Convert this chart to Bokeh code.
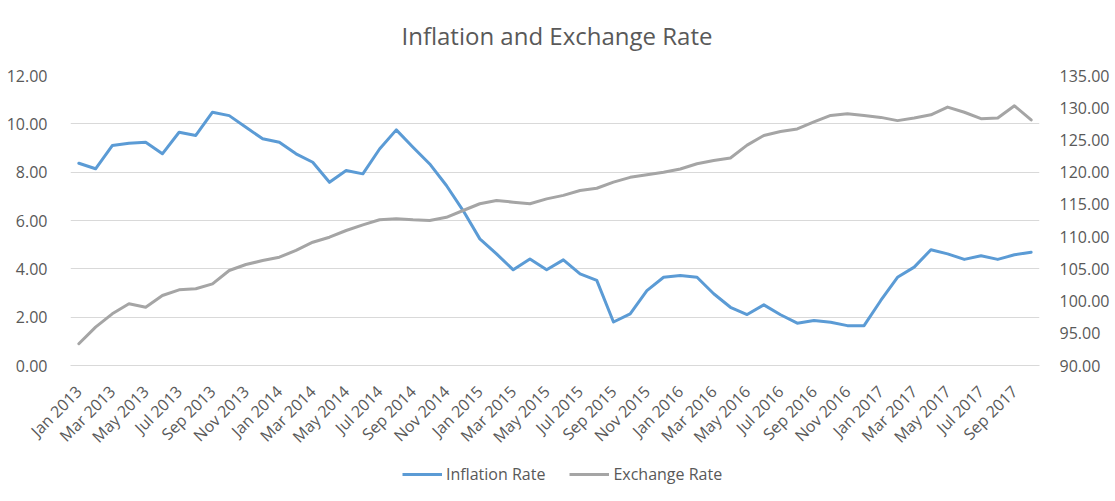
import math
from bokeh.plotting import figure
from bokeh.layouts import column
from bokeh.models import (Range1d, LinearAxis, FixedTicker, NumeralTickFormatter,
                          Legend, LegendItem, ColumnDataSource, Label)
from bokeh.embed import file_html
from bokeh.resources import INLINE

months = [
    "Jan 2013", "Feb 2013", "Mar 2013", "Apr 2013", "May 2013", "Jun 2013",
    "Jul 2013", "Aug 2013", "Sep 2013", "Oct 2013", "Nov 2013", "Dec 2013",
    "Jan 2014", "Feb 2014", "Mar 2014", "Apr 2014", "May 2014", "Jun 2014",
    "Jul 2014", "Aug 2014", "Sep 2014", "Oct 2014", "Nov 2014", "Dec 2014",
    "Jan 2015", "Feb 2015", "Mar 2015", "Apr 2015", "May 2015", "Jun 2015",
    "Jul 2015", "Aug 2015", "Sep 2015", "Oct 2015", "Nov 2015", "Dec 2015",
    "Jan 2016", "Feb 2016", "Mar 2016", "Apr 2016", "May 2016", "Jun 2016",
    "Jul 2016", "Aug 2016", "Sep 2016", "Oct 2016", "Nov 2016", "Dec 2016",
    "Jan 2017", "Feb 2017", "Mar 2017", "Apr 2017", "May 2017", "Jun 2017",
    "Jul 2017", "Aug 2017", "Sep 2017", "Oct 2017",
]

inflation_rate = [
    8.37, 8.14, 9.10, 9.20, 9.24, 8.76, 9.65, 9.52, 10.48, 10.34,
    9.86, 9.38, 9.24, 8.76, 8.41, 7.58, 8.07, 7.93, 8.96, 9.75,
    9.03, 8.34, 7.45, 6.41, 5.24, 4.62, 3.96, 4.41, 3.96, 4.37,
    3.79, 3.52, 1.80, 2.14, 3.10, 3.65, 3.72, 3.65, 2.97, 2.41,
    2.11, 2.51, 2.10, 1.75, 1.86, 1.79, 1.65, 1.65, 2.69, 3.65,
    4.07, 4.79, 4.62, 4.39, 4.54, 4.39, 4.58, 4.69,
]

exchange_rate = [
    93.37, 95.95, 98.02, 99.57, 99.05, 100.86, 101.74, 101.90, 102.67, 104.74,
    105.67, 106.29, 106.81, 107.85, 109.13, 109.91, 110.95, 111.83, 112.61, 112.76,
    112.60, 112.50, 113.00, 114.05, 115.10, 115.60, 115.35, 115.10, 115.86, 116.40,
    117.16, 117.50, 118.45, 119.20, 119.60, 120.00, 120.50, 121.30, 121.80, 122.20,
    124.20, 125.70, 126.30, 126.70, 127.80, 128.80, 129.05, 128.80, 128.50, 128.00,
    128.40, 128.90, 130.10, 129.30, 128.30, 128.40, 130.30, 128.10,
]

tick_labels = [
    "Jan 2013", "Mar 2013", "May 2013", "Jul 2013", "Sep 2013", "Nov 2013",
    "Jan 2014", "Mar 2014", "May 2014", "Jul 2014", "Sep 2014", "Nov 2014",
    "Jan 2015", "Mar 2015", "May 2015", "Jul 2015", "Sep 2015", "Nov 2015",
    "Jan 2016", "Mar 2016", "May 2016", "Jul 2016", "Sep 2016", "Nov 2016",
    "Jan 2017", "Mar 2017", "May 2017", "Jul 2017", "Sep 2017",
]

chart_title = "Inflation and Exchange Rate"
series_names = ["Inflation Rate", "Exchange Rate"]
series_colors = ["#5B9BD5", "#A5A5A5"]

left_ticks = [0, 2, 4, 6, 8, 10, 12]
right_ticks = [90, 95, 100, 105, 110, 115, 120, 125, 130, 135]

FONT = "Open Sans"
TXT = "#595959"
GRID = "#D9D9D9"

idx = list(range(len(months)))
src = ColumnDataSource(dict(x=idx, month=months, infl=inflation_rate, fx=exchange_rate))

# ---- title strip -------------------------------------------------------
ts = figure(width=1115, height=60, output_backend="svg", toolbar_location=None,
            x_range=Range1d(0, 1), y_range=Range1d(0, 1),
            x_axis_location=None, y_axis_location=None,
            min_border_left=0, min_border_right=0, min_border_top=0, min_border_bottom=0)
ts.outline_line_color = None
ts.xgrid.grid_line_color = None
ts.ygrid.grid_line_color = None
ts.add_layout(Label(x=0.502, y=0.42, text=chart_title, text_align="center",
                    text_baseline="middle", text_font=FONT, text_font_size="24px",
                    text_color=TXT))

# ---- main chart --------------------------------------------------------
p = figure(frame_width=969, frame_height=290, output_backend="svg", toolbar_location=None,
           x_range=Range1d(-0.5, len(months) - 0.5), y_range=Range1d(0, 12),
           min_border_left=70, min_border_right=76, min_border_top=15,
           min_border_bottom=92)
p.extra_y_ranges = {"fx": Range1d(90, 135)}
p.outline_line_color = None
p.background_fill_color = "white"
p.border_fill_color = "white"

# x axis
xa = p.xaxis[0]
xa.ticker = FixedTicker(ticks=[months.index(t) for t in tick_labels])
xa.major_label_overrides = {months.index(t): t for t in tick_labels}
xa.major_label_orientation = math.pi / 4
xa.axis_line_color = GRID
xa.major_tick_line_color = None
xa.minor_tick_line_color = None
xa.major_label_text_font = FONT
xa.major_label_text_font_size = "16px"
xa.major_label_text_color = TXT
xa.major_label_standoff = 17

# left y axis
ya = p.yaxis[0]
ya.ticker = FixedTicker(ticks=left_ticks)
ya.formatter = NumeralTickFormatter(format="0.00")
ya.axis_line_color = None
ya.major_tick_line_color = None
ya.minor_tick_line_color = None
ya.major_label_text_font = FONT
ya.major_label_text_font_size = "16px"
ya.major_label_text_color = TXT
ya.major_label_standoff = 17

# right y axis
ra = LinearAxis(y_range_name="fx", ticker=FixedTicker(ticks=right_ticks),
                formatter=NumeralTickFormatter(format="0.00"))
ra.axis_line_color = None
ra.major_tick_line_color = None
ra.minor_tick_line_color = None
ra.major_label_text_font = FONT
ra.major_label_text_font_size = "16px"
ra.major_label_text_color = TXT
ra.major_label_standoff = 14
p.add_layout(ra, "right")

p.xgrid.grid_line_color = None
p.ygrid.ticker = FixedTicker(ticks=left_ticks)
p.ygrid.grid_line_color = GRID
p.ygrid.grid_line_width = 1

p.line("x", "infl", source=src, line_color=series_colors[0], line_width=3,
       line_join="round", line_cap="round")
p.line("x", "fx", source=src, y_range_name="fx", line_color=series_colors[1],
       line_width=3, line_join="round", line_cap="round")

# ---- legend strip (its lines fall outside its ranges; only swatches show) --
lg = figure(width=1115, height=44, output_backend="svg", toolbar_location=None,
            x_range=Range1d(0, 1), y_range=Range1d(-2, -1),
            x_axis_location=None, y_axis_location=None,
            min_border_left=0, min_border_right=0, min_border_top=0, min_border_bottom=0)
lg.outline_line_color = None
lg.xgrid.grid_line_color = None
lg.ygrid.grid_line_color = None
items = []
for name, col, field in zip(series_names, series_colors, ["infl", "fx"]):
    rr = lg.line("x", field, source=src, line_color=col, line_width=3)
    items.append(LegendItem(label=name, renderers=[rr]))
legend = Legend(items=items, orientation="horizontal", location=(332, 17))
legend.border_line_color = None
legend.background_fill_alpha = 0
legend.label_text_font = FONT
legend.label_text_font_size = "16px"
legend.label_text_color = TXT
legend.glyph_width = 40
legend.label_standoff = 4
legend.spacing = 24
legend.padding = 2
legend.margin = 0
lg.add_layout(legend, "center")

layout = column(ts, p, lg, spacing=0)
open("out.html", "w").write(file_html(layout, INLINE))
